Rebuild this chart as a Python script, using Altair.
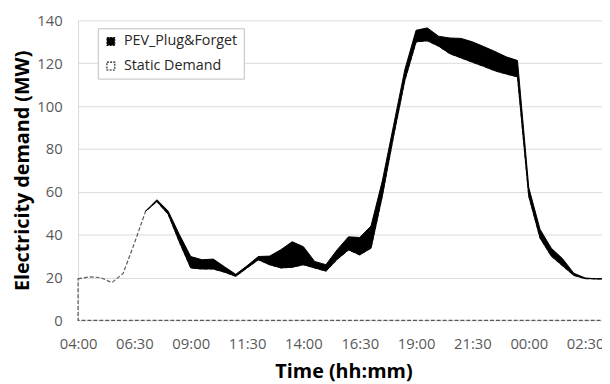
import altair as alt
import pandas as pd

# Half-hour offsets from 04:00 (hours)
hours = [0.0, 0.5, 1.0, 1.5, 2.0, 2.5, 3.0, 3.5, 4.0, 4.5, 5.0, 5.5,
         6.0, 6.5, 7.0, 7.5, 8.0, 8.5, 9.0, 9.5, 10.0, 10.5, 11.0, 11.5,
         12.0, 12.5, 13.0, 13.5, 14.0, 14.5, 15.0, 15.5, 16.0, 16.5, 17.0, 17.5,
         18.0, 18.5, 19.0, 19.5, 20.0, 20.5, 21.0, 21.5, 22.0, 22.5, 23.0, 23.5]

static_mw = [19.4, 20.3, 20.0, 17.6, 21.9, 36.0, 51.0, 55.5, 49.5, 36.5, 24.5, 24.0,
             24.0, 22.5, 20.6, 24.5, 28.3, 26.0, 24.5, 24.8, 26.0, 24.5, 23.0, 28.5,
             32.9, 30.6, 33.7, 58.0, 86.0, 112.0, 130.0, 130.5, 128.0, 124.5, 122.5, 120.5,
             118.6, 116.5, 115.0, 113.7, 58.0, 38.5, 30.0, 25.5, 21.0, 19.5, 19.4, 19.4]

pev_total_mw = [None, None, None, None, None, None, 51.0, 56.3, 51.0, 40.0, 29.8, 28.3,
                28.6, 25.0, 21.5, 25.5, 29.8, 30.0, 33.0, 36.7, 34.4, 27.5, 26.0, 33.0,
                39.0, 38.7, 44.0, 65.0, 91.0, 117.0, 135.4, 136.5, 132.6, 131.8, 131.6, 130.0,
                127.8, 125.5, 123.0, 121.3, 62.0, 42.5, 33.7, 28.8, 22.0, 19.8, 19.4, 19.4]

series_names = ["PEV_Plug&Forget", "Static Demand"]
x_tick_values = [0, 2.5, 5, 7.5, 10, 12.5, 15, 17.5, 20, 22.5]
x_tick_labels = ["04:00", "06:30", "09:00", "11:30", "14:00", "16:30",
                 "19:00", "21:30", "00:00", "02:30"]
y_tick_values = [0, 20, 40, 60, 80, 100, 120, 140]

rows = []
for h, s, p in zip(hours, static_mw, pev_total_mw):
    rows.append({"t": h, "lo": 0.0, "hi": s, "series": series_names[1]})
    if p is not None:
        rows.append({"t": h, "lo": s, "hi": p, "series": series_names[0]})
df = pd.DataFrame(rows)

label_map = ", ".join("'%g': '%s'" % (v, l) for v, l in zip(x_tick_values, x_tick_labels))
label_expr = "{" + label_map + "}[datum.value]"

enc = dict(
    x=alt.X("t:Q",
            scale=alt.Scale(domain=[0, 23.25], nice=False, zero=False),
            axis=alt.Axis(title="Time (hh:mm)", values=x_tick_values, labelExpr=label_expr,
                          grid=False, domain=False, ticks=False, labelFlush=False,
                          labelPadding=16, titlePadding=11, titleX=269)),
    y=alt.Y("hi:Q",
            scale=alt.Scale(domain=[0, 140], nice=False),
            axis=alt.Axis(title="Electricity demand (MW)", values=y_tick_values,
                          grid=True, gridColor="#d9d9d9", gridWidth=1,
                          domain=True, domainColor="#d9d9d9", ticks=False,
                          labelPadding=16, titlePadding=4)),
    y2="lo:Q",
    fill=alt.Fill("series:N", title=None,
                  scale=alt.Scale(domain=series_names, range=["#000000", "transparent"])),
)

static_layer = alt.Chart(df).mark_area(
    stroke="#595959", strokeWidth=1.2, strokeDash=[4, 2], interpolate="linear"
).encode(**enc).transform_filter(alt.datum.series == series_names[1])

pev_layer = alt.Chart(df).mark_area(
    stroke="#000000", strokeWidth=1.0, interpolate="linear"
).encode(**enc).transform_filter(alt.datum.series == series_names[0])

chart = alt.layer(static_layer, pev_layer).properties(
    width=531, height=304,
    autosize=alt.AutoSizeParams(type="none"),
    padding={"left": 71, "top": 10, "right": 0, "bottom": 70},
    background="white",
).configure_view(stroke=None).configure_axis(
    labelFont="Open Sans", labelFontSize=15, labelColor="#595959",
    titleFont="Open Sans", titleFontSize=20, titleFontWeight="bold", titleColor="#000000",
).configure_legend(
    orient="none", legendX=20, legendY=8,
    fillColor="white", strokeColor="#bfbfbf", padding=6,
    rowPadding=10, symbolSize=64, symbolType="square",
    symbolStrokeColor="#1a1a1a", symbolStrokeWidth=1.1, symbolDash=[2, 1.2],
    labelFont="Open Sans", labelFontSize=14.5, labelColor="#262626", labelOffset=6,
)

chart.save("out.html", embed_options={"renderer": "svg", "actions": False})
